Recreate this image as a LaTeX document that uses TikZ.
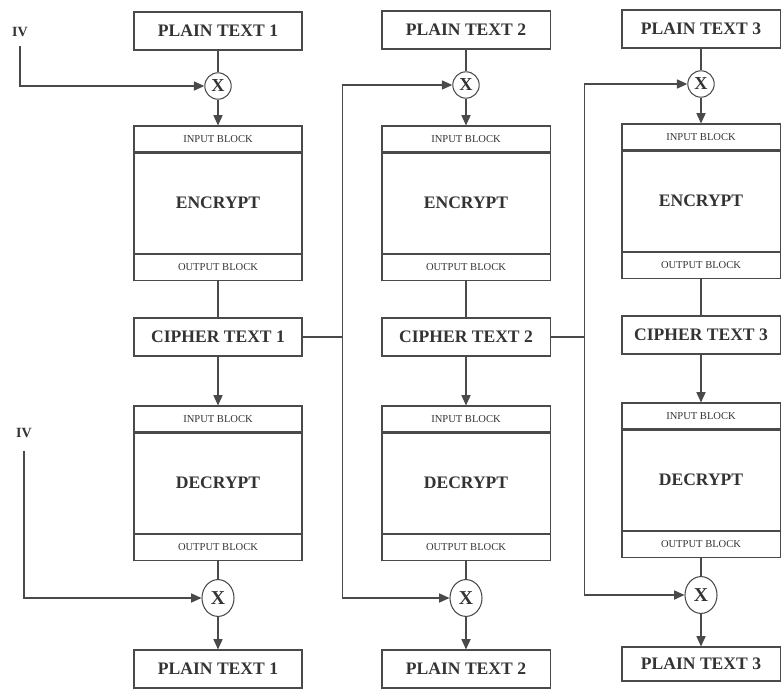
\documentclass[tikz,border=0pt]{standalone}
\usepackage{fontspec}
\setmainfont{Liberation Serif}
\usetikzlibrary{positioning,arrows.meta,shapes.geometric}
\definecolor{inkline}{HTML}{4A4A4A}
\definecolor{inktext}{HTML}{333333}

\begin{document}
\begin{tikzpicture}[
    x=0.025cm, y=-0.025cm,
    line width=0.75pt,
    node distance=0pt,
    every node/.style={text=inktext},
    txtbox/.style={draw=inkline, align=center, minimum width=4.2cm, minimum height=0.95cm, inner sep=0pt, font=\bfseries\fontsize{12.5}{14}\selectfont},
    strip/.style={draw=inkline, minimum width=4.2cm, minimum height=0.65cm, inner sep=0pt, font=\fontsize{7.5}{9}\selectfont},
    cipherblk/.style={draw=inkline, minimum width=4.2cm, minimum height=2.5cm, inner sep=0pt, font=\bfseries\fontsize{12.5}{14}\selectfont},
    narrow/.style={minimum width=3.95cm},
    xorsym/.style={circle, draw=inkline, minimum size=0.66cm, inner sep=0pt, font=\bfseries\fontsize{13}{13}\selectfont},
    xorbig/.style={ellipse, draw=inkline, minimum width=0.8cm, minimum height=0.92cm, inner sep=0pt, font=\bfseries\fontsize{14}{14}\selectfont},
    ivlabel/.style={font=\bfseries\fontsize{10}{12}\selectfont},
    arrow/.style={draw=inkline, -{Triangle[length=2.6mm, width=2.3mm]}},
    link/.style={draw=inkline}
]
\useasboundingbox (0,0) rectangle (782,690);

% column 1
\node[txtbox] (pt1) at (218,31) {PLAIN TEXT 1};
\node[xorsym] (xe1) at (218,86) {X};
\node[strip] (ein1) at (218,139) {INPUT BLOCK};
\node[cipherblk, below=of ein1] (enc1) {ENCRYPT};
\node[strip, below=of enc1] (eout1) {OUTPUT BLOCK};
\node[txtbox] (ct1) at (218,337) {CIPHER TEXT 1};
\node[strip] (din1) at (218,419) {INPUT BLOCK};
\node[cipherblk, below=of din1] (dec1) {DECRYPT};
\node[strip, below=of dec1] (dout1) {OUTPUT BLOCK};
\node[xorbig] (xd1) at (218,598) {X};
\node[txtbox] (pd1) at (218,669) {PLAIN TEXT 1};

% column 2
\node[txtbox] (pt2) at (466,30) {PLAIN TEXT 2};
\node[xorsym] (xe2) at (466,85) {X};
\node[strip] (ein2) at (466,139) {INPUT BLOCK};
\node[cipherblk, below=of ein2] (enc2) {ENCRYPT};
\node[strip, below=of enc2] (eout2) {OUTPUT BLOCK};
\node[txtbox] (ct2) at (466,337) {CIPHER TEXT 2};
\node[strip] (din2) at (466,419) {INPUT BLOCK};
\node[cipherblk, below=of din2] (dec2) {DECRYPT};
\node[strip, below=of dec2] (dout2) {OUTPUT BLOCK};
\node[xorbig] (xd2) at (466,598) {X};
\node[txtbox] (pd2) at (466,669) {PLAIN TEXT 2};

% column 3
\node[txtbox, narrow] (pt3) at (701,29) {PLAIN TEXT 3};
\node[xorsym] (xe3) at (701,84) {X};
\node[strip, narrow] (ein3) at (701,137) {INPUT BLOCK};
\node[cipherblk, narrow, below=of ein3] (enc3) {ENCRYPT};
\node[strip, narrow, below=of enc3] (eout3) {OUTPUT BLOCK};
\node[txtbox, narrow] (ct3) at (701,335) {CIPHER TEXT 3};
\node[strip, narrow] (din3) at (701,416) {INPUT BLOCK};
\node[cipherblk, narrow, below=of din3] (dec3) {DECRYPT};
\node[strip, narrow, below=of dec3] (dout3) {OUTPUT BLOCK};
\node[xorbig] (xd3) at (701,595) {X};
\node[txtbox, narrow, minimum height=0.85cm] (pd3) at (701,664) {PLAIN TEXT 3};

% initialisation vectors
\node[ivlabel] (iv1) at (20,32) {IV};
\node[ivlabel] (iv2) at (24,433) {IV};

% chains inside the columns
\draw[link] (pt1) -- (xe1); \draw[arrow] (xe1) -- (ein1); \draw[link] (eout1) -- (ct1);
\draw[arrow] (ct1) -- (din1); \draw[link] (dout1) -- (xd1); \draw[arrow] (xd1) -- (pd1);
\draw[link] (pt2) -- (xe2); \draw[arrow] (xe2) -- (ein2); \draw[link] (eout2) -- (ct2);
\draw[arrow] (ct2) -- (din2); \draw[link] (dout2) -- (xd2); \draw[arrow] (xd2) -- (pd2);
\draw[link] (pt3) -- (xe3); \draw[arrow] (xe3) -- (ein3); \draw[link] (eout3) -- (ct3);
\draw[arrow] (ct3) -- (din3); \draw[link] (dout3) -- (xd3); \draw[arrow] (xd3) -- (pd3);

% IV feeds
\draw[arrow] ([yshift=-1mm]iv1.south) |- (xe1);
\draw[arrow] ([yshift=-2mm]iv2.south) |- (xd1);

% cipher text feedback
\coordinate[right=1cm of ct1.east] (j1);
\coordinate[right=0.85cm of ct2.east] (j2);
\draw[link] (ct1) -- (j1); \draw[arrow] (j1) |- (xe2); \draw[arrow] (j1) |- (xd2);
\draw[link] (ct2) -- (j2); \draw[arrow] (j2) |- (xe3); \draw[arrow] (j2) |- (xd3);
\end{tikzpicture}
\end{document}
